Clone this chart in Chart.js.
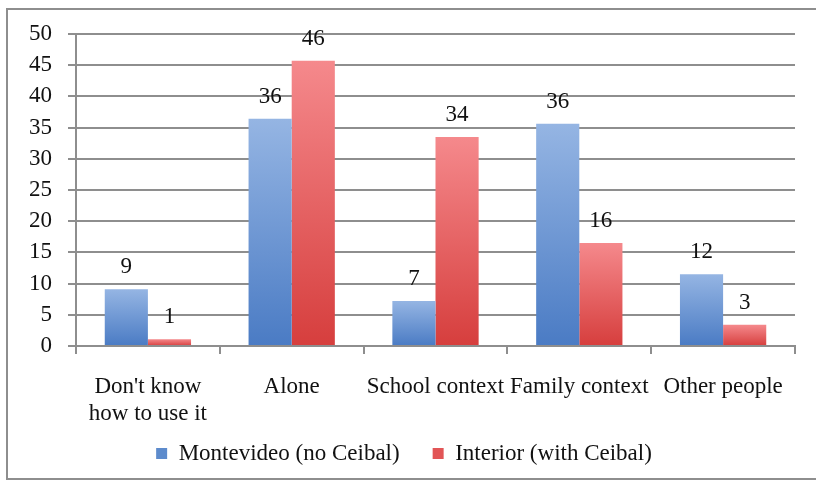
<!DOCTYPE html>
<html>
<head>
<meta charset="utf-8">
<script src="https://cdn.jsdelivr.net/npm/chart.js@4.4.1/dist/chart.umd.min.js"></script>
<style>
  html, body { margin: 0; padding: 0; background: #fff; }
  #wrap { position: relative; width: 816px; height: 480px; overflow: hidden; }
  #frame { position: absolute; left: 6px; top: 8px; width: 830px; height: 468px; border: 2px solid #8e8e8e; pointer-events: none; }
  canvas { position: absolute; left: 0; top: 0; }
</style>
</head>
<body>
<div id="wrap">
  <canvas id="c" width="816" height="480"></canvas>
  <div id="frame"></div>
</div>
<script>
const categories = [["Don't know", "how to use it"], "Alone", "School context", "Family context", "Other people"];
const seriesNames = ["Montevideo (no Ceibal)", "Interior (with Ceibal)"];
const montevideo = [9.1, 36.4, 7.2, 35.6, 11.5];
const interior = [1.1, 45.7, 33.5, 16.5, 3.4];
const montevideoLabels = ["9", "36", "7", "36", "12"];
const interiorLabels = ["1", "46", "34", "16", "3"];
const yTicks = [0, 5, 10, 15, 20, 25, 30, 35, 40, 45, 50];

const FONT = "'Liberation Serif', 'Times New Roman', serif";
const FS = 23;
const GRID = '#8e8e8e';

function gradFill(topColor, bottomColor) {
  return function (ctx) {
    const chart = ctx.chart;
    if (!chart.chartArea || ctx.type !== 'data') return bottomColor;
    const y = chart.scales.y;
    const top = y.getPixelForValue(ctx.raw);
    const bottom = y.getPixelForValue(0);
    if (!isFinite(top) || Math.abs(bottom - top) < 1) return bottomColor;
    const g = chart.ctx.createLinearGradient(0, top, 0, bottom);
    g.addColorStop(0, topColor);
    g.addColorStop(1, bottomColor);
    return g;
  };
}

const valueLabels = {
  id: 'valueLabels',
  afterDatasetsDraw(chart) {
    const ctx = chart.ctx;
    const sets = [montevideoLabels, interiorLabels];
    ctx.save();
    ctx.font = FS + 'px ' + FONT;
    ctx.fillStyle = '#111';
    ctx.textAlign = 'center';
    ctx.textBaseline = 'middle';
    chart.data.datasets.forEach((ds, di) => {
      const meta = chart.getDatasetMeta(di);
      meta.data.forEach((el, i) => {
        ctx.fillText(sets[di][i], el.x, el.y - 22);
      });
    });
    ctx.restore();
  }
};

new Chart(document.getElementById('c'), {
  type: 'bar',
  data: {
    labels: categories,
    datasets: [
      { label: seriesNames[0], data: montevideo, backgroundColor: gradFill('#95b5e3', '#4a7bc4'), borderWidth: 0 },
      { label: seriesNames[1], data: interior, backgroundColor: gradFill('#f5898c', '#d63e3d'), borderWidth: 0 }
    ]
  },
  options: {
    responsive: false,
    animation: false,
    devicePixelRatio: 1,
    layout: { padding: { left: 13, right: 21, top: 34, bottom: 5 } },
    datasets: { bar: { categoryPercentage: 0.6, barPercentage: 1.0 } },
    plugins: {
      tooltip: { enabled: false },
      legend: {
        position: 'bottom',
        labels: {
          color: '#111',
          font: { family: FONT, size: FS },
          boxWidth: 11,
          boxHeight: 11,
          padding: 10,
          generateLabels(chart) {
            return chart.data.datasets.map((ds, i) => ({
              text: i === 0 ? ds.label + '\u2003' : ds.label,
              fillStyle: i === 0 ? '#5d8bcc' : '#e25556',
              strokeStyle: 'rgba(0,0,0,0)',
              lineWidth: 0,
              datasetIndex: i,
              fontColor: '#111'
            }));
          }
        }
      }
    },
    scales: {
      x: {
        offset: true,
        grid: { offset: true, drawOnChartArea: false, drawTicks: true, tickLength: 8, color: GRID, lineWidth: 2 },
        border: { color: GRID, width: 2 },
        ticks: { color: '#111', font: { family: FONT, size: FS }, padding: 19, maxRotation: 0, autoSkip: false },
        afterFit(axis) { axis.height = 86; }
      },
      y: {
        min: 0,
        max: 50,
        afterBuildTicks(axis) { axis.ticks = yTicks.map(v => ({ value: v })); },
        grid: { color: GRID, lineWidth: 2, tickLength: 8 },
        border: { color: GRID, width: 2 },
        ticks: { color: '#111', font: { family: FONT, size: FS }, padding: 16, autoSkip: false }
      }
    }
  },
  plugins: [valueLabels]
});
</script>
</body>
</html>
